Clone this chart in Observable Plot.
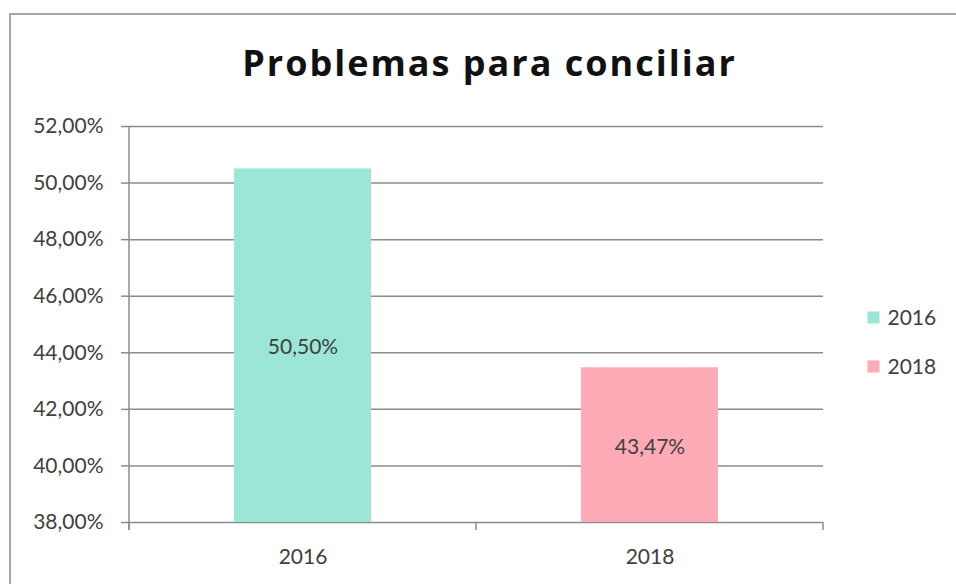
<!DOCTYPE html>
<html><head><meta charset="utf-8">
<script src="https://cdn.jsdelivr.net/npm/d3@7"></script>
<script src="https://cdn.jsdelivr.net/npm/@observablehq/plot@0.6"></script>
<style>
html,body{margin:0;padding:0;background:#fff;overflow:hidden;}
#wrap{position:relative;width:956px;height:584px;overflow:hidden;}
#border{position:absolute;left:9px;top:13px;width:947px;height:571px;border-top:2px solid #a6a6a6;border-left:2px solid #a6a6a6;box-sizing:border-box;}
#chart{position:absolute;left:0;top:0;}
</style></head><body>
<div id="wrap"><div id="border"></div><div id="chart"></div></div>
<script>
const title = "Problemas para conciliar";
const years = ["2016", "2018"];
const values = [50.50, 43.47];
const colors = ["#9be6d5", "#ffaab7"];
const yTicks = [38, 40, 42, 44, 46, 48, 50, 52];
const yDomain = [38, 52];

const data = years.map((y, i) => ({year: y, value: values[i]}));
const fmt = d => d.toFixed(2).replace(".", ",") + "%";
const font = "Lato, 'Open Sans', sans-serif";
const grey = "#8c8c8c";
const textColor = "#404040";

function axisLines(index, scales, vals, dims) {
  const {width, height, marginLeft, marginRight, marginTop, marginBottom} = dims;
  const x = scales.x;
  const y0 = height - marginBottom;
  let edges;
  if (x && x.bandwidth) {
    edges = years.map(c => x(c)).concat([x(years[years.length - 1]) + x.bandwidth()]);
  } else {
    const w = (width - marginLeft - marginRight) / years.length;
    edges = d3.range(years.length + 1).map(i => marginLeft + i * w);
  }
  const g = d3.create("svg:g").attr("stroke", grey).attr("stroke-width", 1.5);
  g.append("line").attr("x1", marginLeft).attr("x2", marginLeft).attr("y1", marginTop).attr("y2", y0 + 8);
  g.selectAll("line.t").data(edges).join("line").attr("class", "t")
    .attr("x1", d => d).attr("x2", d => d).attr("y1", y0).attr("y2", y0 + 8);
  return g.node();
}

const legendMarks = years.flatMap((yr, i) => [
  Plot.dot([yr], {frameAnchor: "right", dx: 50, dy: -7 + 49 * i, symbol: "square", r: 6.8, fill: colors[i], stroke: "none"}),
  Plot.text([yr], {frameAnchor: "right", dx: 64, dy: -6 + 49 * i, text: d => d, textAnchor: "start", lineAnchor: "middle", fontSize: 21, fill: textColor})
]);

const plot = Plot.plot({
  width: 956, height: 584,
  marginLeft: 129, marginRight: 133, marginTop: 126, marginBottom: 62,
  style: {fontFamily: font, background: "transparent", overflow: "visible"},
  x: {domain: years, padding: 0, axis: null, label: null},
  y: {domain: yDomain, axis: null, label: null},
  color: {domain: years, range: colors},
  marks: [
    Plot.ruleY(yTicks, {stroke: grey, strokeWidth: 1.5}),
    Plot.axisY({ticks: yTicks, tickFormat: fmt, tickSize: 8, tickPadding: 18, stroke: grey, strokeWidth: 1.5, fill: textColor, fontSize: 21, label: null}),
    Plot.barY(data, {x: "year", y1: 38, y2: "value", fill: "year", insetLeft: 105, insetRight: 105}),
    axisLines,
    Plot.text(data, {x: "year", y: d => (38 + d.value) / 2, text: d => fmt(d.value), fill: textColor, fontSize: 21, dy: 2}),
    Plot.text(years, {x: d => d, frameAnchor: "bottom", lineAnchor: "middle", dy: 35, text: d => d, fill: textColor, fontSize: 21}),
    Plot.text([title], {frameAnchor: "top", lineAnchor: "middle", dx: 13, dy: -62, text: d => d, fontSize: 36, fontWeight: "bold", fill: "#111", fontFamily: "'Open Sans', Lato, sans-serif"}),
    ...legendMarks
  ]
});
d3.select(plot).selectAll("text").filter(function () { return this.textContent === title; }).attr("letter-spacing", 2);
document.getElementById("chart").appendChild(plot);
</script>
</body></html>
